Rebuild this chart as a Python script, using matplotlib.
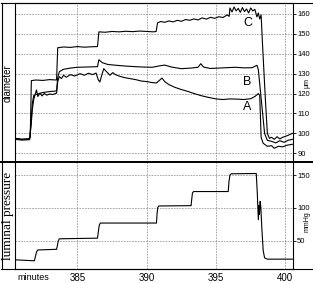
import matplotlib
matplotlib.use("Agg")
import matplotlib.pyplot as plt
from matplotlib.lines import Line2D

# ---------------- data ----------------
t_C = [380.5, 381.0, 381.5, 381.6, 381.68, 382.0, 382.5, 383.0, 383.5, 383.58,
       384.0, 384.5, 385.0, 385.5, 386.0, 386.45, 386.55, 387.0, 387.5, 388.0,
       388.5, 389.0, 389.5, 390.0, 390.5, 390.68, 390.78, 391.0, 391.3, 391.6,
       391.9, 392.2, 392.5, 392.8, 393.1, 393.4, 393.7, 394.0, 394.3, 394.6,
       394.9, 395.2, 395.5, 395.8, 395.95, 396.0, 396.15, 396.3, 396.45, 396.6,
       396.75, 396.9, 397.05, 397.2, 397.35, 397.5, 397.65, 397.8, 397.95, 398.05,
       398.15, 398.25, 398.35, 398.55, 398.7, 398.85, 399.0, 399.2, 399.4, 399.6,
       399.8, 400.0, 400.2, 400.5]
d_C = [97.5, 97.0, 97.3, 98.0, 126.5, 126.8, 126.6, 127.0, 126.8, 143.0,
       143.4, 143.2, 143.6, 143.3, 143.5, 143.6, 151.0, 150.8, 151.2, 151.0,
       151.3, 151.1, 151.4, 151.2, 151.0, 151.2, 155.5, 156.2, 155.8, 156.5,
       156.0, 156.8, 156.3, 157.2, 156.8, 157.5, 157.0, 158.0, 157.4, 158.3,
       157.8, 158.6, 158.2, 159.5, 158.8, 163.0, 161.0, 163.5, 161.5, 162.8,
       160.8, 163.2, 161.2, 162.5, 160.5, 163.0, 161.5, 162.3, 158.5, 160.5,
       157.5, 159.5, 145.0, 118.0, 100.0, 97.5, 98.0, 97.0, 98.3, 97.2,
       98.0, 98.5, 99.0, 100.0]

t_B = [380.5, 381.0, 381.55, 381.65, 381.75, 381.85, 382.0, 382.5, 383.0, 383.5,
       383.58, 383.7, 384.0, 384.5, 385.0, 385.5, 386.0, 386.45, 386.55, 386.8,
       387.2, 387.8, 388.5, 389.2, 389.8, 390.4, 391.0, 391.3, 391.8, 392.5,
       393.2, 393.7, 393.9, 394.1, 394.6, 395.2, 395.8, 396.4, 397.0, 397.6,
       397.95, 398.05, 398.5, 398.7, 399.0, 399.3, 399.6, 399.9, 400.2, 400.5]
d_B = [97.5, 97.0, 97.2, 105.0, 115.0, 119.0, 119.5, 120.5, 121.0, 121.3,
       128.0, 131.0, 132.2, 132.8, 133.2, 133.3, 133.4, 133.5, 137.0, 135.5,
       134.6, 134.2, 133.8, 133.5, 133.3, 133.2, 134.0, 134.3, 133.3, 132.5,
       132.8, 133.2, 135.0, 133.3, 132.6, 132.8, 133.0, 133.2, 132.9, 133.0,
       134.2, 132.0, 100.0, 96.5, 96.0, 95.2, 96.3, 95.5, 96.5, 97.0]

t_A = [380.5, 381.0, 381.55, 381.65, 381.75, 381.85, 381.95, 382.05, 382.15, 382.3,
       382.45, 382.6, 382.8, 383.0, 383.2, 383.5, 383.58, 383.7, 383.85, 384.0,
       384.2, 384.5, 384.8, 385.2, 385.5, 385.8, 386.1, 386.35, 386.5, 386.62,
       386.75, 386.9, 387.1, 387.35, 387.55, 387.75, 388.0, 388.4, 388.8, 389.2,
       389.6, 390.0, 390.4, 390.7, 390.9, 391.1, 391.3, 391.6, 392.0, 392.5,
       393.0, 393.5, 394.0, 394.5, 395.0, 395.5, 396.0, 396.5, 397.0, 397.5,
       397.8, 398.05, 398.15, 398.25, 398.4, 398.7, 399.0, 399.2, 399.5, 399.8,
       400.1, 400.5]
d_A = [97.0, 96.6, 96.8, 103.0, 112.0, 117.0, 119.5, 121.8, 118.5, 120.2,
       118.8, 120.0, 119.2, 119.8, 119.5, 120.2, 126.0, 128.5, 127.5, 129.2,
       128.2, 129.5, 128.8, 130.0, 129.2, 130.2, 129.5, 130.3, 127.0, 125.8,
       129.0, 132.5, 131.0, 129.2, 130.5, 129.5, 128.8, 128.0, 127.5, 127.0,
       126.3, 126.0, 125.5, 125.3, 126.5, 127.8, 126.0, 124.5, 123.2, 122.0,
       121.0, 119.8, 118.8, 118.0, 117.3, 117.0, 117.3, 117.2, 117.0, 117.4,
       118.5, 120.0, 119.0, 98.0, 95.0, 93.5, 93.8, 92.5, 93.5, 93.2,
       94.0, 94.5]

t_P = [380.5, 381.9, 381.95, 382.05, 382.15, 383.5, 383.55, 383.62, 383.7, 386.45,
       386.5, 386.58, 386.66, 390.7, 390.75, 390.8, 390.88, 393.2, 393.25, 393.3,
       393.38, 395.88, 395.93, 396.0, 396.08, 397.9, 397.98, 398.05, 398.1, 398.13,
       398.18, 398.23, 398.3, 398.4, 398.5, 398.7, 400.5]
p_P = [21.0, 19.5, 24.0, 33.0, 36.0, 37.0, 42.0, 50.0, 53.0, 54.0,
       62.0, 74.0, 77.0, 77.0, 92.0, 101.0, 103.0, 103.5, 114.0, 123.0,
       125.0, 125.0, 140.0, 150.0, 152.0, 152.5, 120.0, 82.0, 104.0, 90.0,
       110.0, 101.0, 70.0, 35.0, 24.0, 22.0, 22.0]

x_ticks = [385, 390, 395, 400]
diam_ticks = [90, 100, 110, 120, 130, 140, 150, 160]
press_ticks = [50, 100, 150]
curve_labels = ["A", "B", "C"]
label_pos_d = [113.3, 125.8, 155.5]

# ---------------- figure ----------------
W, H = 313, 283
fig = plt.figure(figsize=(W / 100, H / 100), dpi=100)
fig.patch.set_facecolor("white")

def fx(px):
    return px / W

def fy(py):
    return 1 - py / H

L, R = 15, 293
ax1 = fig.add_axes([fx(L), fy(162), fx(R) - fx(L), fy(3) - fy(162)])
ax2 = fig.add_axes([fx(L), fy(269), fx(R) - fx(L), fy(162) - fy(269)])

XL = (380.5, 400.55)
grid_kw = dict(color="#8a8a8a", lw=0.5, ls=(0, (2.5, 1.5)))
tickfont = dict(family="Liberation Sans", size=5.5)

for ax in (ax1, ax2):
    ax.set_xlim(*XL)
    ax.set_xticks(x_ticks)
    for s in ax.spines.values():
        s.set_linewidth(0.8)
        s.set_color("black")
    ax.yaxis.tick_right()
    ax.tick_params(axis="y", direction="out", length=2, width=0.6, pad=1,
                   labelsize=5.5, colors="black")
    ax.tick_params(axis="x", length=0)
    for lab in ax.get_yticklabels():
        lab.set_family("Liberation Sans")
    for xv in x_ticks:
        ax.axvline(xv, zorder=0, **grid_kw)

# top panel
ax1.set_ylim(85.6, 165.5)
ax1.set_yticks(diam_ticks)
ax1.set_yticklabels([str(v) for v in diam_ticks], family="Liberation Sans", size=5.5)
for yv in diam_ticks:
    ax1.axhline(yv, zorder=0, **grid_kw)
ax1.set_xticklabels([])
ax1.plot(t_C, d_C, color="black", lw=0.8)
ax1.plot(t_B, d_B, color="black", lw=0.8)
ax1.plot(t_A, d_A, color="black", lw=0.8)
for lab, yv in zip(curve_labels, label_pos_d):
    ax1.text(397.26, yv, lab, ha="center", va="center", fontsize=9,
             family="Liberation Sans")
ax1.spines["bottom"].set_visible(False)

# bottom panel
ax2.set_ylim(7, 170)
ax2.set_yticks(press_ticks)
ax2.set_yticklabels([str(v) for v in press_ticks], family="Liberation Sans", size=5.5)
for yv in press_ticks:
    ax2.axhline(yv, zorder=0, **grid_kw)
ax2.plot(t_P, p_P, color="black", lw=0.8)
ax2.set_xticklabels([str(v) for v in x_ticks], family="Liberation Sans", size=7)
ax2.tick_params(axis="x", pad=3)
ax2.spines["top"].set_visible(False)

# frame lines across full width
fig.add_artist(Line2D([fx(1), fx(313)], [fy(3), fy(3)], color="black", lw=0.8))
fig.add_artist(Line2D([fx(1), fx(313)], [fy(162), fy(162)], color="black", lw=1.4))
fig.add_artist(Line2D([fx(1), fx(313)], [fy(269), fy(269)], color="black", lw=0.8))
fig.add_artist(Line2D([fx(1.5), fx(1.5)], [fy(3), fy(269)], color="black", lw=0.8))

# axis labels
fig.text(fx(8), fy(83), "diameter", rotation=90, ha="center", va="center",
         fontsize=7, family="Liberation Sans")
fig.text(fx(8), fy(216), "luminal pressure", rotation=90, ha="center", va="center",
         fontsize=9.5, family="Liberation Serif")
fig.text(fx(307), fy(83), "µm", rotation=90, ha="center", va="center",
         fontsize=5, family="Liberation Sans")
fig.text(fx(307), fy(222), "mmHg", rotation=90, ha="center", va="center",
         fontsize=5, family="Liberation Sans")
fig.text(fx(17), fy(277), "minutes", ha="left", va="center",
         fontsize=6.5, family="Liberation Sans")

fig.savefig("out.png", dpi=100)
